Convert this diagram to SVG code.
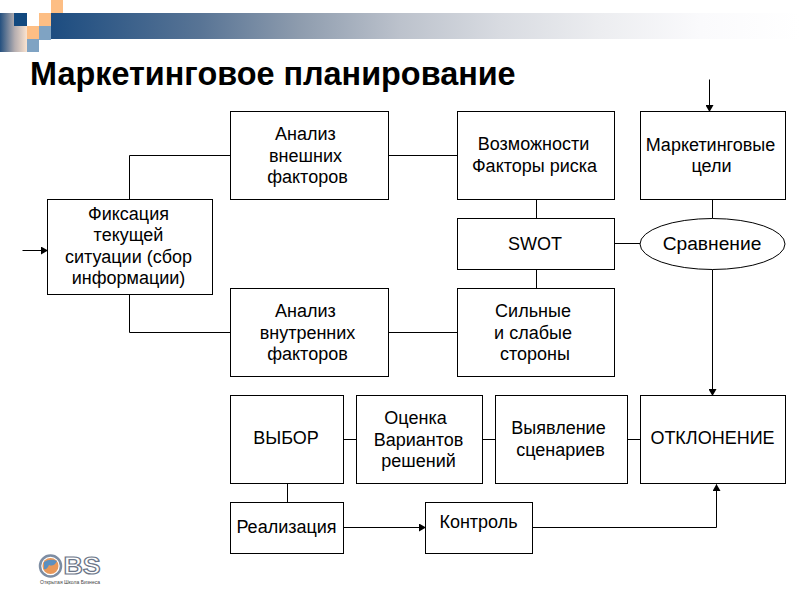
<svg xmlns="http://www.w3.org/2000/svg" width="800" height="600" viewBox="0 0 800 600">
<style>
text{font-family:"Liberation Sans",Arial,sans-serif;fill:#000;text-anchor:middle}
.l{font-size:18px}
.b{fill:#fff;stroke:#000;stroke-width:1}
.c{fill:none;stroke:#000;stroke-width:1}
</style>
<defs>
<linearGradient id="bar" x1="0" x2="1" y1="0" y2="0"><stop offset="0" stop-color="#1c4c80"/><stop offset=".2" stop-color="#587495"/><stop offset=".333" stop-color="#8e9cae"/><stop offset=".467" stop-color="#bcc2cc"/><stop offset=".6" stop-color="#d8dbe1"/><stop offset=".733" stop-color="#ecedf0"/><stop offset=".867" stop-color="#fafafc"/><stop offset="1" stop-color="#fff"/></linearGradient>
<linearGradient id="fade" x1="0" x2="1" y1="0" y2="0"><stop offset="0" stop-color="#24507f"/><stop offset=".55" stop-color="#b5aeb0"/><stop offset="1" stop-color="#fbe3cf"/></linearGradient>
<marker id="a" markerWidth="7" markerHeight="8" refX="6.5" refY="4" orient="auto" markerUnits="userSpaceOnUse"><path d="M0 0L7 4L0 8Z" fill="#000"/></marker>
</defs>
<g id="header">
<rect x="50" y="13" width="750" height="26" fill="url(#bar)"/>
<rect x="0" y="13" width="27" height="39" fill="url(#fade)"/>
<rect x="14" y="13" width="13" height="13" fill="#12497f"/>
<rect x="39" y="13" width="12" height="13" fill="#fdbe84"/>
<rect x="51" y="0" width="12" height="13" fill="#fdbe84"/>
<rect x="27" y="26" width="12" height="13" fill="#fdbe84"/>
<rect x="39" y="26" width="12" height="14" fill="#7fa3c3"/>
<rect x="27" y="39" width="12" height="13" fill="#7fa3c3"/>
</g>
<text x="30" y="85" font-size="32.4" font-weight="bold" style="text-anchor:start">Маркетинговое планирование</text>
<g transform="translate(.5 .5)">
<g id="connectors">
<path class="c" d="M709 79V111" marker-end="url(#a)"/>
<path class="c" d="M22 250H47" marker-end="url(#a)"/>
<path class="c" d="M129 199V155H230"/>
<path class="c" d="M129 294V332H230"/>
<path class="c" d="M388 155H457"/>
<path class="c" d="M388 332H457"/>
<path class="c" d="M536 199V218"/>
<path class="c" d="M536 269V288"/>
<path class="c" d="M614 243H640"/>
<path class="c" d="M712 199V218"/>
<path class="c" d="M712 269V395" marker-end="url(#a)"/>
<path class="c" d="M343 439H356"/>
<path class="c" d="M482 439H495"/>
<path class="c" d="M627 439H640"/>
<path class="c" d="M287 483V502"/>
<path class="c" d="M343 527H425" marker-end="url(#a)"/>
<path class="c" d="M532 527H716V484" marker-end="url(#a)"/>
</g>
<g id="n-fix"><rect class="b" x="47" y="199" width="165" height="95"/><text class="l" x="128" y="219">Фиксация</text><text class="l" x="128" y="240">текущей</text><text class="l" x="128" y="262">ситуации (сбор</text><text class="l" x="128" y="283">информации)</text></g>
<g id="n-ext"><rect class="b" x="230" y="111" width="158" height="88"/><text class="l" x="305" y="139">Анализ</text><text class="l" x="305" y="161">внешних</text><text class="l" x="307" y="182">факторов</text></g>
<g id="n-opp"><rect class="b" x="457" y="111" width="157" height="88"/><text class="l" x="533" y="149">Возможности</text><text class="l" x="534" y="171">Факторы риска</text></g>
<g id="n-goal"><rect class="b" x="640" y="111" width="145" height="88"/><text class="l" x="710" y="150">Маркетинговые</text><text class="l" x="711" y="171">цели</text></g>
<g id="n-swot"><rect class="b" x="457" y="218" width="157" height="51"/><text class="l" x="534.500" y="249">SWOT</text></g>
<g id="n-cmp"><ellipse class="b" cx="712" cy="243.500" rx="72.500" ry="25.500"/><text x="711.500" y="249" font-size="19.2">Сравнение</text></g>
<g id="n-int"><rect class="b" x="230" y="288" width="158" height="88"/><text class="l" x="305" y="316">Анализ</text><text class="l" x="307" y="338">внутренних</text><text class="l" x="307" y="359">факторов</text></g>
<g id="n-str"><rect class="b" x="457" y="288" width="157" height="88"/><text class="l" x="532.500" y="316">Сильные</text><text class="l" x="532.500" y="338">и слабые</text><text class="l" x="534.500" y="359">стороны</text></g>
<g id="n-choice"><rect class="b" x="230" y="395" width="113" height="88"/><text class="l" x="285.500" y="443">ВЫБОР</text></g>
<g id="n-eval"><rect class="b" x="356" y="395" width="126" height="88"/><text class="l" x="415" y="423">Оценка</text><text class="l" x="418" y="445">Вариантов</text><text class="l" x="418" y="466">решений</text></g>
<g id="n-scen"><rect class="b" x="495" y="395" width="132" height="88"/><text class="l" x="558" y="433">Выявление</text><text class="l" x="560" y="455">сценариев</text></g>
<g id="n-dev"><rect class="b" x="640" y="395" width="145" height="88"/><text class="l" x="712" y="443">ОТКЛОНЕНИЕ</text></g>
<g id="n-impl"><rect class="b" x="230" y="502" width="113" height="51"/><text class="l" x="286" y="532">Реализация</text></g>
<g id="n-ctrl"><rect class="b" x="425" y="502" width="107" height="51"/><text class="l" x="478" y="527">Контроль</text></g>
</g>
<g id="logo">
<circle cx="50.500" cy="566" r="10.500" fill="#fff" stroke="#7d8da3" stroke-width="2.500"/>
<circle cx="50.500" cy="566" r="8" fill="#e8985a"/>
<path d="M44 562Q50 558 57 561Q54 567 49 565Q47 570 44 569Z" fill="#5b8fc0"/>
<text x="82" y="574" font-size="24" font-weight="bold" stroke="#6c7688" stroke-width="1.200" style="fill:#fff" textLength="37" lengthAdjust="spacingAndGlyphs">BS</text>
<text x="70" y="584" font-size="4.500" textLength="60" lengthAdjust="spacingAndGlyphs" style="fill:#444">Открытая Школа Бизнеса</text>
</g>
</svg>
